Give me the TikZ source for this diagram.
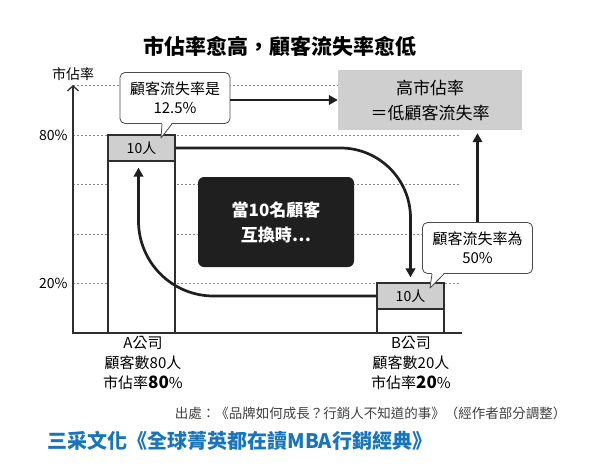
\documentclass[tikz,border=0pt]{standalone}
\usepackage{fontspec}
\setmainfont{Noto Sans CJK TC}
\usepackage{tikz}
\usetikzlibrary{arrows.meta,positioning}

\begin{document}
\begin{tikzpicture}[
        x=1pt,y=-1pt,
        node distance=3pt,
        font=\fontsize{14}{17}\selectfont,
        thk/.style={line width=2.7pt,bkx,-{Triangle[length=9pt,width=9.5pt]}},
        grid/.style={dsx,line width=0.6pt,dash pattern=on 2pt off 2pt},
        callout/.style={draw=black!70,fill=white,rounded corners=5pt,line width=0.8pt,
            minimum width=110pt,minimum height=51pt,align=center,
            font=\fontsize{15}{19}\selectfont}
    ]
    \colorlet{cgr}{black!19}
    \colorlet{bkx}{black!88}
    \colorlet{lnx}{black!82}
    \colorlet{dsx}{black!45}
    \definecolor{blu}{RGB}{24,116,188}
    \useasboundingbox (0,0) rectangle (600,472);

    \node (title) at (280,46) [font=\fontsize{21}{24}\selectfont\bfseries] {市佔率愈高，顧客流失率愈低};

    % axis and grid
    \coordinate (o)    at (73,333);
    \coordinate (ytop) at (73,85);
    \coordinate (xend) at (462,333);
    \node (ylab) [above=1pt of ytop] {市佔率};
    \foreach \y in {135,184,234,283}
        \draw [grid] (73,\y) -- (460,\y);
    \node (p80) [left=2pt] at (73,135) {80\%};
    \node (p20) [left=2pt] at (73,283) {20\%};

    % result box
    \node (gb) at (430,100) [fill=cgr,minimum width=184pt,minimum height=60pt,align=center,
        font=\fontsize{17}{25}\selectfont] {高市佔率\\＝低顧客流失率};
    \draw [grid] (ytop) -- (ytop -| gb.west);

    \begin{scope}[
        every node/.style={draw=lnx,line width=1.3pt,minimum width=67pt,inner sep=0pt}
    ]
        \node (barA) at (141.5,234) [fill=white,minimum height=198pt] {};
        \node (cA)   at (141.5,148) [fill=cgr,minimum height=26pt]   {10人};
        \node (barB) at (410.5,308) [fill=white,minimum height=50pt]  {};
        \node (cB)   at (410.5,296) [fill=cgr,minimum height=26pt]   {10人};
    \end{scope}
    \draw [lnx,line width=1.3pt,-{Straight Barb[length=5pt,width=11pt]}] (xend) -- (o) -- (ytop);

    \node (labA) at (143,363) [align=center,font=\fontsize{15}{20}\selectfont]
        {A公司\\顧客數80人\\市佔率{\bfseries\fontsize{17}{20}\selectfont 80}\%};
    \node (labB) at (411,363) [align=center,font=\fontsize{15}{20}\selectfont]
        {B公司\\顧客數20人\\市佔率{\bfseries\fontsize{17}{20}\selectfont 20}\%};

    \node (bk) at (276,222) [fill=bkx,rounded corners=6pt,minimum width=156pt,minimum height=90pt,
        text=white,align=center,font=\fontsize{17}{25}\selectfont\bfseries] {當10名顧客\\互換時…};

    % callouts
    \node (c1) at (175,98)    [callout] {顧客流失率是\\12.5\%};
    \node (c2) at (477.5,248) [callout] {顧客流失率為\\50\%};
    \coordinate (t1) at (161,138);
    \coordinate (t2) at (430,288);
    \fill [white] ([xshift=-13pt,yshift=1.2pt]c1.south) -- (t1) -- ([xshift=-3pt,yshift=1.2pt]c1.south) -- cycle;
    \draw [black!70,line width=0.8pt,line join=round] ([xshift=-13pt]c1.south) -- (t1) -- ([xshift=-3pt]c1.south);
    \fill [white] ([xshift=-45.5pt,yshift=1.2pt]c2.south) -- (t2) -- ([xshift=-33.5pt,yshift=1.2pt]c2.south) -- cycle;
    \draw [black!70,line width=0.8pt,line join=round] ([xshift=-45.5pt]c2.south) -- (t2) -- ([xshift=-33.5pt]c2.south);

    % arrows
    \draw [thk] (c1.east |- gb.west) -- (gb.west);
    \draw [thk,shorten >=3pt] (c2.north) -- (c2.north |- gb.south);
    \draw [thk,rounded corners=70pt,shorten >=5pt] (cA.east) -- (cA.east -| cB.north) -- (cB.north);
    \draw [thk,rounded corners=75pt,shorten >=6pt] (cB.west) -- ([xshift=-3pt]cB.west -| cA.south) -- ([xshift=-3pt]cA.south);

    \node (src) [anchor=east,text=black!75,font=\fontsize{13.5}{15}\selectfont] at (570,413)
        {出處：《品牌如何成長？行銷人不知道的事》（經作者部分調整）};
    \node (foot) [anchor=west,text=blu,font=\fontsize{20}{24}\selectfont\bfseries] at (44,441)
        {三采文化《全球菁英都在讀MBA行銷經典》};
\end{tikzpicture}
\end{document}
